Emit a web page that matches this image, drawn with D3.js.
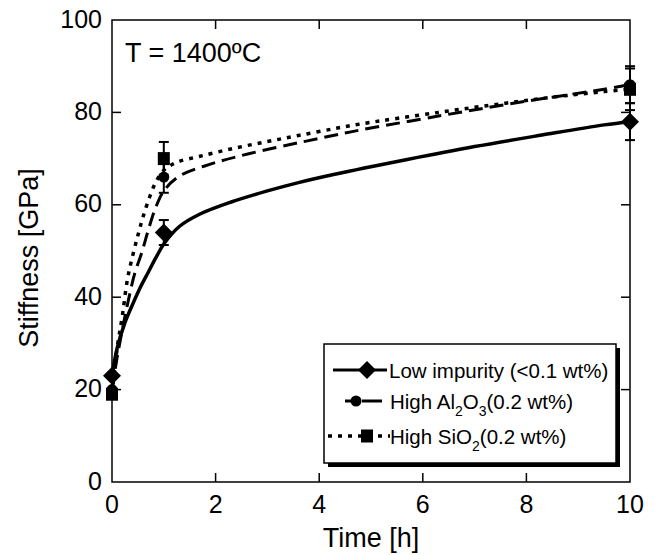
<!DOCTYPE html>
<html>
<head>
<meta charset="utf-8">
<script src="https://cdn.jsdelivr.net/npm/d3@7"></script>
<style>
  body { margin: 0; background: #fff; }
  text { font-family: "Liberation Sans", Arial, sans-serif; fill: #000; }
</style>
</head>
<body>
<div id="chart"></div>
<script>
// measured points
const times = [0, 1, 10];
const lowImpurity = [23, 54, 78];
const lowErr = [0, 2.7, 4];
const highAl2O3 = [20, 66, 86];
const alErr = [0, 3.4, 4];
const highSiO2 = [19, 70, 85];
const siErr = [0.6, 3.6, 4.5];

// fitted curves
const lowFitT = [0, 0.1, 0.25, 0.4, 0.55, 0.7, 0.85, 1.0, 1.3, 1.7, 2.3, 3.0, 3.6, 4.3, 5.7, 7.0, 8.3, 9.5, 10];
const lowFitV = [23, 29, 34.5, 38.5, 42.2, 45.4, 48.6, 51.5, 55.3, 58, 60.6, 63, 64.8, 66.6, 69.8, 72.6, 75.1, 77.3, 78];
const alFitT = [0, 0.1, 0.2, 0.3, 0.44, 0.57, 0.7, 0.83, 1.0, 1.3, 1.9, 2.66, 3.63, 4.4, 4.8, 6.3, 7.6, 8.5, 9.5, 10];
const alFitV = [20, 27, 33, 38.5, 45.2, 49.5, 54.5, 59, 63, 66.2, 68.8, 71.1, 73.5, 75.3, 76.2, 79.2, 81.7, 83.3, 85, 86];
const siFitT = [0, 0.1, 0.2, 0.3, 0.41, 0.51, 0.6, 0.73, 0.85, 1.0, 1.25, 1.7, 2.34, 3.0, 3.6, 4.3, 4.8, 6.3, 7.6, 8.5, 9.5, 10];
const siFitV = [19, 29, 36, 44, 49.5, 53.8, 57.4, 61.8, 65, 67.5, 69.2, 70.5, 72.2, 73.7, 75, 76.5, 77.5, 80, 82, 83.3, 84.5, 85];

const xTicks = [0, 2, 4, 6, 8, 10];
const yTicks = [0, 20, 40, 60, 80, 100];
const seriesNames = ["Low impurity (<0.1 wt%)", "High Al2O3(0.2 wt%)", "High SiO2(0.2 wt%)"];

const width = 657, height = 555;
const margin = { top: 20, right: 27, bottom: 73, left: 112 };
const w = width - margin.left - margin.right;
const h = height - margin.top - margin.bottom;

const svg = d3.select("#chart").append("svg")
    .attr("width", width)
    .attr("height", height);

const g = svg.append("g")
    .attr("transform", `translate(${margin.left},${margin.top})`);

const x = d3.scaleLinear().domain([0, 10]).range([0, w]);
const y = d3.scaleLinear().domain([0, 100]).range([h, 0]);

// fit curves
const line = d3.line()
    .x(d => x(d[0]))
    .y(d => y(d[1]))
    .curve(d3.curveCatmullRom.alpha(0.5));

const curves = [
    { t: lowFitT, v: lowFitV, dash: null, sw: 3.5 },
    { t: alFitT, v: alFitV, dash: "14,7", sw: 3 },
    { t: siFitT, v: siFitV, dash: "4,6", sw: 3.5 }
];
curves.forEach(c => {
    g.append("path")
        .datum(d3.zip(c.t, c.v))
        .attr("fill", "none")
        .attr("stroke", "#000")
        .attr("stroke-width", c.sw)
        .attr("stroke-dasharray", c.dash)
        .attr("d", line);
});

// error bars
const series = [
    { vals: lowImpurity, err: lowErr, shape: "diamond" },
    { vals: highAl2O3, err: alErr, shape: "circle" },
    { vals: highSiO2, err: siErr, shape: "square" }
];
series.forEach(s => {
    times.forEach((t, i) => {
        if (!s.err[i]) return;
        const cx = x(t);
        const y1 = y(s.vals[i] + s.err[i]), y2 = y(s.vals[i] - s.err[i]);
        g.append("line").attr("x1", cx).attr("x2", cx).attr("y1", y1).attr("y2", y2)
            .attr("stroke", "#000").attr("stroke-width", 2);
        [y1, y2].forEach(yy => {
            g.append("line").attr("x1", cx - 5).attr("x2", cx + 5).attr("y1", yy).attr("y2", yy)
                .attr("stroke", "#000").attr("stroke-width", 2);
        });
    });
});

function drawMarker(sel, shape, cx, cy) {
    if (shape === "diamond") {
        sel.append("path")
            .attr("d", `M${cx},${cy - 9}L${cx + 9},${cy}L${cx},${cy + 9}L${cx - 9},${cy}Z`)
            .attr("fill", "#000");
    } else if (shape === "circle") {
        sel.append("circle").attr("cx", cx).attr("cy", cy).attr("r", 5.5).attr("fill", "#000");
    } else {
        sel.append("rect").attr("x", cx - 6).attr("y", cy - 6.5).attr("width", 12).attr("height", 13)
            .attr("fill", "#000");
    }
}

// draw circles first, then squares, diamonds on top
[series[1], series[2], series[0]].forEach(s => {
    times.forEach((t, i) => drawMarker(g, s.shape, x(t), y(s.vals[i])));
});

// frame + inward ticks
g.append("rect").attr("width", w).attr("height", h)
    .attr("fill", "none").attr("stroke", "#000").attr("stroke-width", 1.5);

const tickLen = 9;
xTicks.forEach(t => {
    if (t === 0 || t === 10) return;
    g.append("line").attr("x1", x(t)).attr("x2", x(t)).attr("y1", h).attr("y2", h - tickLen)
        .attr("stroke", "#000").attr("stroke-width", 1.5);
    g.append("line").attr("x1", x(t)).attr("x2", x(t)).attr("y1", 0).attr("y2", tickLen)
        .attr("stroke", "#000").attr("stroke-width", 1.5);
});
yTicks.forEach(t => {
    if (t === 0 || t === 100) return;
    g.append("line").attr("x1", 0).attr("x2", tickLen).attr("y1", y(t)).attr("y2", y(t))
        .attr("stroke", "#000").attr("stroke-width", 1.5);
    g.append("line").attr("x1", w).attr("x2", w - tickLen).attr("y1", y(t)).attr("y2", y(t))
        .attr("stroke", "#000").attr("stroke-width", 1.5);
});

// tick labels
g.selectAll(".xl").data(xTicks).enter().append("text")
    .attr("x", d => x(d)).attr("y", h + 31)
    .attr("text-anchor", "middle").style("font-size", "25px")
    .text(d => d);
g.selectAll(".yl").data(yTicks).enter().append("text")
    .attr("x", -10).attr("y", d => y(d) + 7.5)
    .attr("text-anchor", "end").style("font-size", "25px")
    .text(d => d);

// axis titles
svg.append("text")
    .attr("x", margin.left + w / 2).attr("y", 547)
    .attr("text-anchor", "middle").style("font-size", "27px")
    .text("Time [h]");
svg.append("text")
    .attr("transform", "translate(38,258) rotate(-90)")
    .attr("text-anchor", "middle").style("font-size", "27px")
    .text("Stiffness [GPa]");

svg.append("text")
    .attr("x", 125).attr("y", 62)
    .style("font-size", "27px")
    .text("T = 1400\u00baC");

// legend
const leg = svg.append("g");
leg.append("rect").attr("x", 328).attr("y", 348).attr("width", 292).attr("height", 119).attr("fill", "#000");
leg.append("rect").attr("x", 324).attr("y", 344).attr("width", 292).attr("height", 119)
    .attr("fill", "#fff").attr("stroke", "#000").attr("stroke-width", 1.5);

const rowY = [370, 401, 436];
// row 1: solid + diamond
leg.append("line").attr("x1", 333).attr("x2", 387).attr("y1", rowY[0]).attr("y2", rowY[0])
    .attr("stroke", "#000").attr("stroke-width", 3);
drawMarker(leg, "diamond", 367, rowY[0]);
// row 2: dashed + circle
leg.append("line").attr("x1", 345).attr("x2", 352).attr("y1", rowY[1]).attr("y2", rowY[1])
    .attr("stroke", "#000").attr("stroke-width", 3);
leg.append("line").attr("x1", 362).attr("x2", 382).attr("y1", rowY[1]).attr("y2", rowY[1])
    .attr("stroke", "#000").attr("stroke-width", 3);
drawMarker(leg, "circle", 356, rowY[1]);
// row 3: dotted + square
leg.append("line").attr("x1", 328).attr("x2", 390).attr("y1", rowY[2]).attr("y2", rowY[2])
    .attr("stroke", "#000").attr("stroke-width", 3.5).attr("stroke-dasharray", "4,6");
drawMarker(leg, "square", 367, rowY[2]);

const fs = "20.5px";
leg.append("text").attr("x", 389).attr("y", rowY[0] + 8).style("font-size", fs).text(seriesNames[0]);

const t2 = leg.append("text").attr("x", 390).attr("y", rowY[1] + 8).style("font-size", fs);
t2.append("tspan").text("High Al");
t2.append("tspan").attr("dy", 7).style("font-size", "14px").text("2");
t2.append("tspan").attr("dy", -7).text("O");
t2.append("tspan").attr("dy", 7).style("font-size", "14px").text("3");
t2.append("tspan").attr("dy", -7).text("(0.2 wt%)");

const t3 = leg.append("text").attr("x", 390).attr("y", rowY[2] + 8).style("font-size", fs);
t3.append("tspan").text("High SiO");
t3.append("tspan").attr("dy", 7).style("font-size", "14px").text("2");
t3.append("tspan").attr("dy", -7).text("(0.2 wt%)");
</script>
</body>
</html>
